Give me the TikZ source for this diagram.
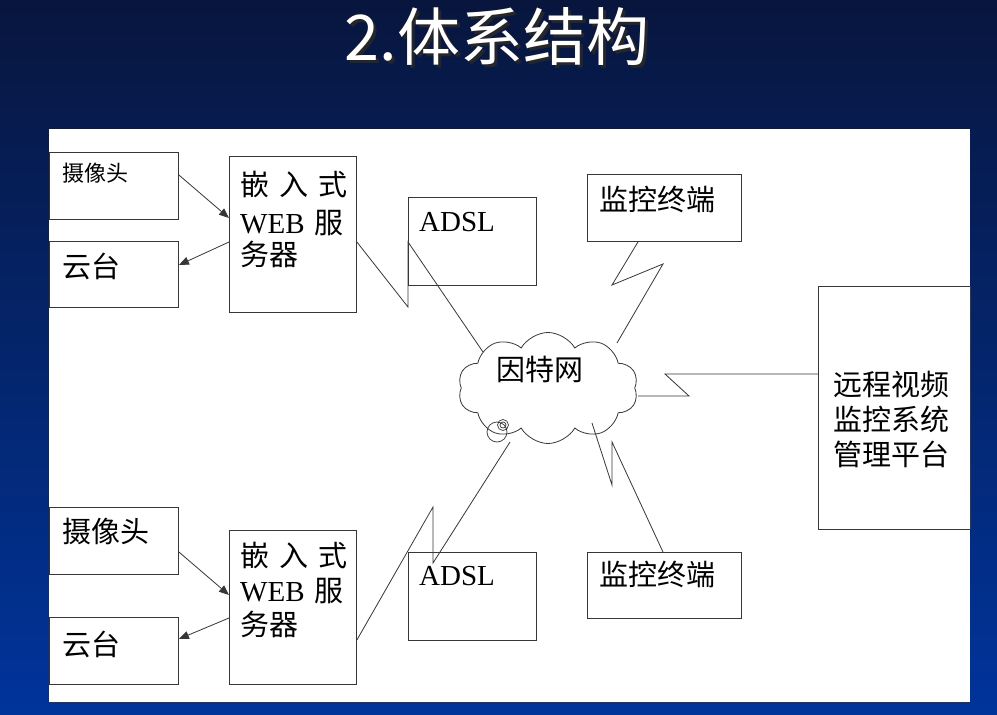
\documentclass[tikz,border=0pt]{standalone}
\usepackage{fontspec}
\setmainfont{Liberation Serif}
\newfontfamily\cjk{Noto Sans CJK SC}
\usetikzlibrary{shapes.symbols,arrows.meta}
\definecolor{bgtop}{RGB}{8,22,62}
\definecolor{bgbot}{RGB}{0,52,155}
\definecolor{boxline}{RGB}{55,55,55}
\newcommand{\shadowtext}[1]{\rlap{\hspace{3pt}\raisebox{-3pt}{\color{black!85}#1}}\color{white}#1}
\begin{document}
\begin{tikzpicture}[x=1pt,y=-1pt,
  box/.style={draw=boxline, line width=0.9pt, fill=white, inner sep=0pt, anchor=north west},
  link/.style={draw=boxline, line width=0.8pt},
  arr/.style={link, -{Triangle[length=10pt,width=8pt]}},
  lbl/.style={anchor=base west, inner sep=0pt, text=black, font=\cjk\fontsize{29}{33}\selectfont},
  small/.style={lbl, font=\cjk\fontsize{22}{26}\selectfont},
  latin/.style={anchor=base west, inner sep=0pt, text=black, font=\rmfamily\fontsize{29}{33}\selectfont},
  title/.style={anchor=base, inner sep=0pt, font=\cjk\fontsize{63}{63}\selectfont},
]
% slide background and white drawing panel
\useasboundingbox (0,0) rectangle (997,715);
\shade[top color=bgtop, bottom color=bgbot] (0,0) rectangle (997,715);
\fill[white] (49,129) rectangle (970,702);
\draw[black!80, line width=1pt] (49,702) -- (970,702);

% title with drop shadow
\node[title] (title) at (497,60) {\shadowtext{2.体系结构}};

% upper site
\node[box, minimum width=129pt, minimum height=67pt] (cam1) at (49,152) {};
\node[small] (cam1t) at (62,181) {摄像头};
\node[box, minimum width=129pt, minimum height=66pt] (ptz1) at (49,241) {};
\node[lbl] (ptz1t) at (62,277) {云台};
\node[box, minimum width=127pt, minimum height=156pt] (srv1) at (229,156) {};
\node[lbl] (srv1a) at (240,195) {嵌\hspace{10pt}入\hspace{10pt}式};
\node[lbl] (srv1b) at (240,233) {{\rmfamily WEB}\hspace{10pt}服};
\node[lbl] (srv1c) at (240,265) {务器};
\node[box, minimum width=128pt, minimum height=88pt] (adsl1) at (408,197) {};
\node[latin] (adsl1t) at (419,231) {ADSL};

% lower site
\node[box, minimum width=129pt, minimum height=67pt] (cam2) at (49,507) {};
\node[lbl] (cam2t) at (62,542) {摄像头};
\node[box, minimum width=129pt, minimum height=67pt] (ptz2) at (49,617) {};
\node[lbl] (ptz2t) at (62,655) {云台};
\node[box, minimum width=127pt, minimum height=154pt] (srv2) at (229,530) {};
\node[lbl] (srv2a) at (240,566) {嵌\hspace{10pt}入\hspace{10pt}式};
\node[lbl] (srv2b) at (240,601) {{\rmfamily WEB}\hspace{10pt}服};
\node[lbl] (srv2c) at (240,635) {务器};
\node[box, minimum width=128pt, minimum height=88pt] (adsl2) at (408,552) {};
\node[latin] (adsl2t) at (419,585) {ADSL};

% terminals and management platform
\node[box, minimum width=154pt, minimum height=67pt] (term1) at (587,174) {};
\node[lbl] (term1t) at (599,210) {监控终端};
\node[box, minimum width=154pt, minimum height=66pt] (term2) at (587,552) {};
\node[lbl] (term2t) at (599,585) {监控终端};
\node[box, minimum width=152pt, minimum height=243pt] (plat) at (818,286) {};
\node[lbl] (plat1) at (833,395) {远程视频};
\node[lbl] (plat2) at (833,430) {监控系统};
\node[lbl] (plat3) at (833,465) {管理平台};

% internet cloud (outline only; the links run a little way inside it)
\node[cloud, draw=boxline, line width=0.8pt, cloud puffs=10, cloud puff arc=120,
      aspect=1.6, minimum width=180pt, minimum height=111pt, inner sep=0pt] (net) at (548,388) {};
\node[lbl, anchor=base] (nett) at (540,380) {因特网};
\draw[boxline, line width=0.7pt] (497,432) circle (10pt) (503,425) circle (5.5pt) (503,425) circle (3pt);

% camera / pan-tilt links
\draw[arr] (cam1.east |- 0,175) -- (srv1.west |- 0,218);
\draw[arr] (srv1.west |- 0,242) -- (ptz1.east |- 0,265);
\draw[arr] (cam2.east |- 0,552) -- (srv2.west |- 0,595);
\draw[arr] (srv2.west |- 0,618) -- (ptz2.east |- 0,639);

% lightning links to the internet
\draw[link] (srv1.east |- 0,242) -- (408,307) -- (408,242) -- ([shift={(-65,-36)}]net.center);
\draw[link] (srv2.east |- 0,640) -- (433,507) -- (433,563) -- ([shift={(-38,54)}]net.center);
\draw[link] (term1.south -| 638,0) -- (612,285) -- (663,264) -- ([shift={(69,-45)}]net.center);
\draw[link] ([shift={(44,35)}]net.center) -- (612,485) -- (612,442) -- (term2.north -| 663,0);
\draw[link] (plat.west |- 0,374) -- (665,374) -- (689,396) -- ([shift={(90,8)}]net.center);
\end{tikzpicture}
\end{document}
